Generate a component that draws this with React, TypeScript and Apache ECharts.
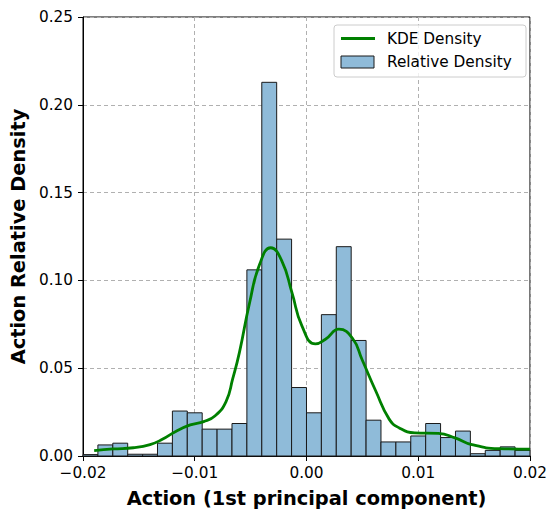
import React, { useEffect, useRef } from "react";
import * as echarts from "echarts";

// Histogram: 30 equal bins spanning the x range
const binRangeStart = -0.02;
const binRangeEnd = 0.02;
const binDensities = [
  0.0008, 0.0063, 0.0073, 0.001, 0.001, 0.0073, 0.0256, 0.0246, 0.0153, 0.0153,
  0.0185, 0.106, 0.2128, 0.1235, 0.039, 0.0246, 0.0805, 0.1192, 0.0658, 0.0204,
  0.008, 0.008, 0.0114, 0.0185, 0.0105, 0.0142, 0.0013, 0.0032, 0.0052, 0.0032,
];

// KDE curve samples
const kdeX = [
  -0.019, -0.0173, -0.0155, -0.014, -0.0129, -0.0117, -0.0104, -0.0092, -0.0082,
  -0.0072, -0.0066, -0.006, -0.0051, -0.0042, -0.0032, -0.0022, -0.0013, -0.0004,
  0.0008, 0.0017, 0.0029, 0.0041, 0.005, 0.0062, 0.0074, 0.0083, 0.0097,
  0.0118, 0.0133, 0.0148, 0.0172, 0.02,
];
const kdeY = [
  0.003, 0.004, 0.0047, 0.0065, 0.0095, 0.014, 0.0177, 0.0196, 0.0228,
  0.031, 0.044, 0.059, 0.087, 0.109, 0.1186, 0.111, 0.093, 0.074,
  0.0638, 0.0665, 0.0722, 0.0672, 0.0545, 0.037, 0.021, 0.016, 0.0132,
  0.0129, 0.0103, 0.0065, 0.0042, 0.0039,
];

const xTicks = [-0.02, -0.01, 0.0, 0.01, 0.02];
const yTicks = [0.0, 0.05, 0.1, 0.15, 0.2, 0.25];

const FONT = "DejaVu Sans";

export default function App() {
  const ref = useRef<HTMLDivElement>(null);

  useEffect(() => {
    if (!ref.current) return;
    const chart = echarts.init(ref.current, undefined, { renderer: "svg" });
    const n = binDensities.length;
    const w = (binRangeEnd - binRangeStart) / n;
    const histData = binDensities.map((d, i) => [
      binRangeStart + i * w,
      binRangeStart + (i + 1) * w,
      d,
    ]);
    const kdeData = kdeX.map((x, i) => [x, kdeY[i]]);
    const fmtX = (v: number) => v.toFixed(2).replace("-", "\u2212");

    chart.setOption({
      animation: false,
      grid: {
        left: 83,
        width: 449,
        top: 17,
        height: 446,
        show: true,
        borderColor: "#000",
        borderWidth: 1,
        backgroundColor: "transparent",
      },
      xAxis: {
        type: "value",
        min: xTicks[0],
        max: xTicks[xTicks.length - 1],
        interval: 0.01,
        name: "Action (1st principal component)",
        nameLocation: "middle",
        nameGap: 33,
        nameTextStyle: { fontFamily: FONT, fontSize: 19.4, fontWeight: "bold", color: "#000" },
        axisLine: { show: true, onZero: false, lineStyle: { color: "#000", width: 1 } },
        axisTick: { show: true, length: 5, lineStyle: { color: "#000" } },
        axisLabel: {
          fontFamily: FONT,
          fontSize: 15.3,
          color: "#000",
          margin: 9,
          formatter: fmtX,
        },
        splitLine: { show: true, lineStyle: { color: "#b0b0b0", width: 1, type: [4, 3] } },
      },
      yAxis: {
        type: "value",
        min: yTicks[0],
        max: yTicks[yTicks.length - 1],
        interval: 0.05,
        name: "Action Relative Density",
        nameLocation: "middle",
        nameGap: 48,
        nameTextStyle: { fontFamily: FONT, fontSize: 19.4, fontWeight: "bold", color: "#000" },
        axisLine: { show: true, onZero: false, lineStyle: { color: "#000", width: 1 } },
        axisTick: { show: true, length: 5, lineStyle: { color: "#000" } },
        axisLabel: {
          fontFamily: FONT,
          fontSize: 15.3,
          color: "#000",
          margin: 10,
          formatter: (v: number) => v.toFixed(2),
        },
        splitLine: { show: true, lineStyle: { color: "#b0b0b0", width: 1, type: [4, 3] } },
      },
      series: [
        {
          name: "Relative Density",
          type: "custom",
          data: histData,
          z: 2,
          renderItem: (params: any, api: any) => {
            const p0 = api.coord([api.value(0), api.value(2)]);
            const p1 = api.coord([api.value(1), 0]);
            return {
              type: "rect",
              shape: { x: p0[0], y: p0[1], width: p1[0] - p0[0], height: p1[1] - p0[1] },
              style: { fill: "#8fbbd9", stroke: "#1a1a1a", lineWidth: 1 },
            };
          },
        },
        {
          name: "KDE Density",
          type: "line",
          data: kdeData,
          smooth: 0.5,
          showSymbol: false,
          z: 3,
          lineStyle: { color: "#008000", width: 2.8 },
          itemStyle: { color: "#008000" },
        },
      ],
      graphic: [
        {
          type: "rect",
          shape: { x: 334, y: 25, width: 192, height: 52, r: 3 },
          style: { fill: "rgba(255,255,255,0.8)", stroke: "#cccccc", lineWidth: 1 },
          z: 10,
        },
        {
          type: "line",
          shape: { x1: 341, y1: 38.5, x2: 375, y2: 38.5 },
          style: { stroke: "#008000", lineWidth: 2.8 },
          z: 11,
        },
        {
          type: "rect",
          shape: { x: 341, y: 56, width: 33, height: 12 },
          style: { fill: "#8fbbd9", stroke: "#1a1a1a", lineWidth: 1 },
          z: 11,
        },
        {
          type: "text",
          x: 387,
          y: 38.5,
          style: {
            text: "KDE Density",
            fontFamily: FONT,
            fontSize: 15.3,
            fill: "#000",
            verticalAlign: "middle",
            align: "left",
          },
          z: 11,
        },
        {
          type: "text",
          x: 387,
          y: 62,
          style: {
            text: "Relative Density",
            fontFamily: FONT,
            fontSize: 15.3,
            fill: "#000",
            verticalAlign: "middle",
            align: "left",
          },
          z: 11,
        },
      ],
    });
    return () => chart.dispose();
  }, []);

  return (
    <div
      ref={ref}
      style={{ width: 550, height: 513, position: "absolute", left: 0, top: 0 }}
    />
  );
}
